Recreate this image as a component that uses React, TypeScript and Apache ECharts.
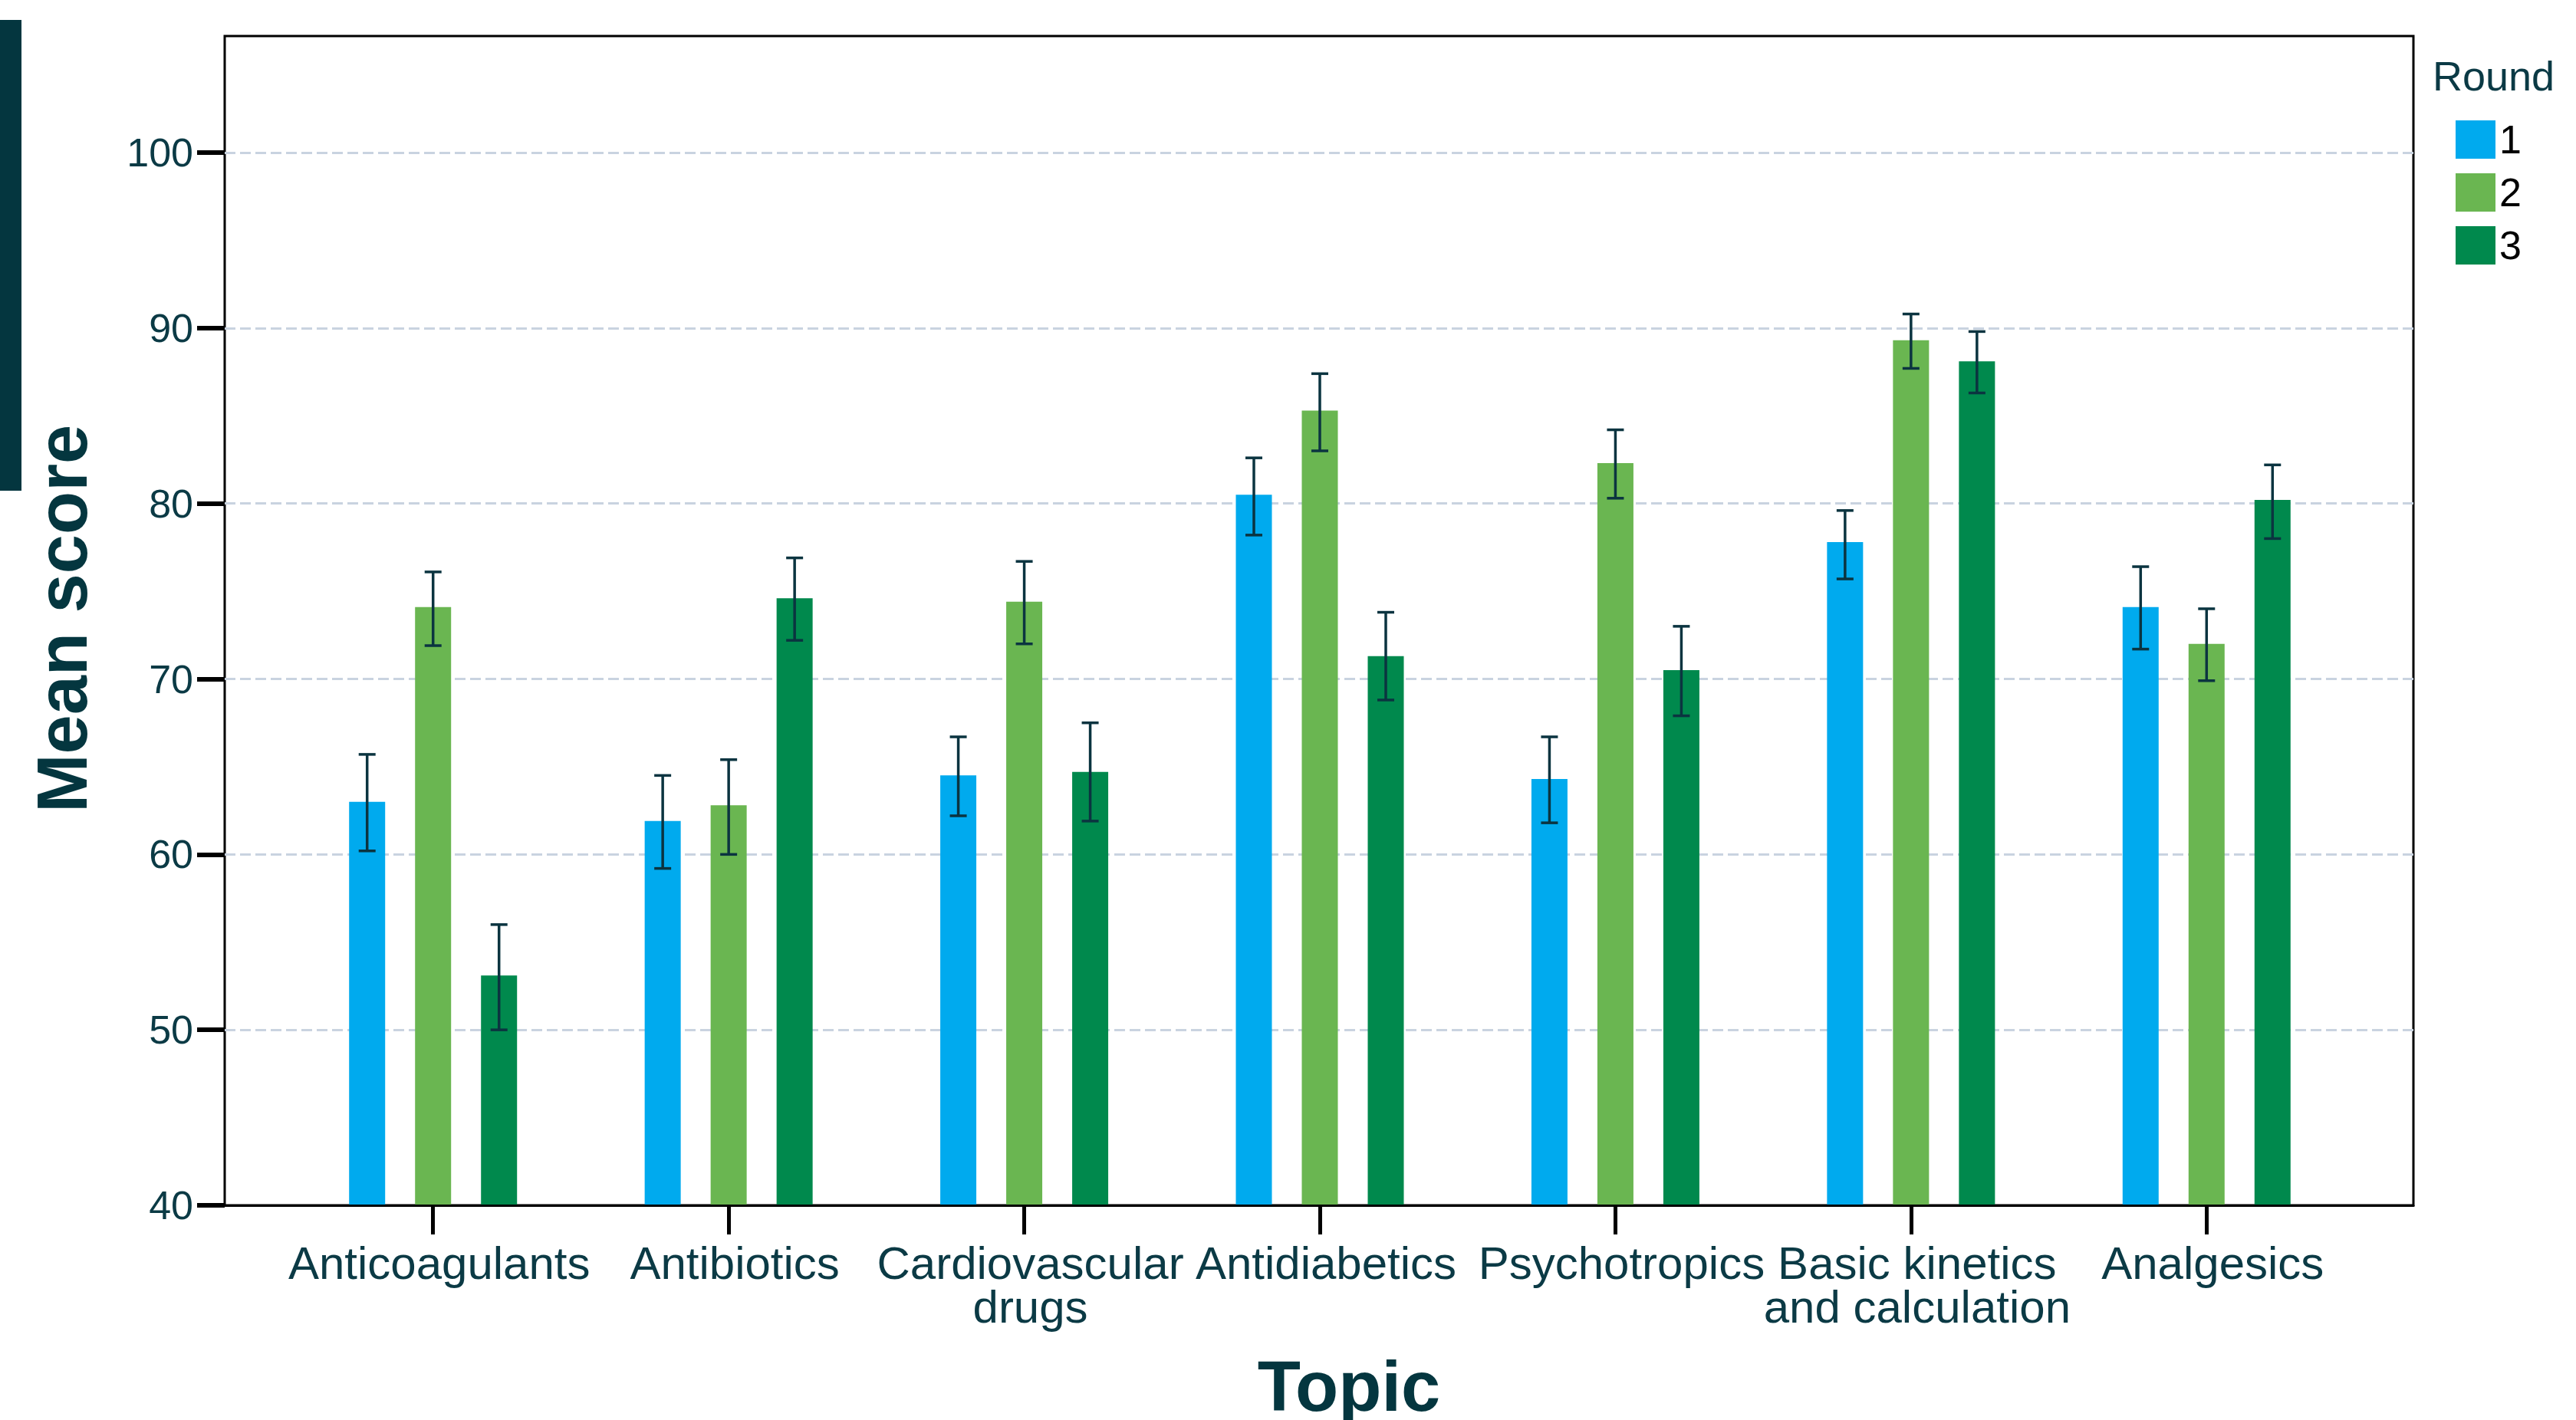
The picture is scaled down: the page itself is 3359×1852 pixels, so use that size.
import React, { useEffect, useRef } from "react";
import * as echarts from "echarts";

const categories = [
  "Anticoagulants",
  "Antibiotics",
  "Cardiovascular\ndrugs",
  "Antidiabetics",
  "Psychotropics",
  "Basic kinetics\nand calculation",
  "Analgesics",
];

const roundNames = ["1", "2", "3"];

const round1 = [63.0, 61.9, 64.5, 80.5, 64.3, 77.8, 74.1];
const round1Low = [60.2, 59.2, 62.2, 78.2, 61.8, 75.7, 71.7];
const round1High = [65.7, 64.5, 66.7, 82.6, 66.7, 79.6, 76.4];

const round2 = [74.1, 62.8, 74.4, 85.3, 82.3, 89.3, 72.0];
const round2Low = [71.9, 60.0, 72.0, 83.0, 80.3, 87.7, 69.9];
const round2High = [76.1, 65.4, 76.7, 87.4, 84.2, 90.8, 74.0];

const round3 = [53.1, 74.6, 64.7, 71.3, 70.5, 88.1, 80.2];
const round3Low = [50.0, 72.2, 61.9, 68.8, 67.9, 86.3, 78.0];
const round3High = [56.0, 76.9, 67.5, 73.8, 73.0, 89.8, 82.2];

const yTickMin = 40;
const yTickMax = 100;
const yTickStep = 10;

const colors = ["#00aaee", "#6ab651", "#00894d"];
const TEAL = "#0b3a45";
const DARK = "#04363f";
const ERR = "#0b3440";
const FONT = "'Liberation Sans', Arial, sans-serif";

const BAR_W = 47;
const BAR_GAP_PX = 39;
const CAP_W = 22;

export default function App() {
  const ref = useRef<HTMLDivElement>(null);

  useEffect(() => {
    if (!ref.current) return;
    const chart = echarts.init(ref.current, undefined, { renderer: "svg" });

    const means = [round1, round2, round3];
    const lows = [round1Low, round2Low, round3Low];
    const highs = [round1High, round2High, round3High];

    const barSeries = roundNames.map((name, k) => ({
      name,
      type: "bar",
      xAxisIndex: 2,
      yAxisIndex: 2,
      data: means[k],
      barWidth: BAR_W,
      barGap: `${(BAR_GAP_PX / BAR_W) * 100}%`,
      itemStyle: { color: colors[k] },
      z: 2,
    }));

    const errSeries = roundNames.map((name, k) => ({
      name: "err" + name,
      type: "custom",
      xAxisIndex: 2,
      yAxisIndex: 2,
      clip: false,
      z: 5,
      encode: { x: 0, y: [1, 2] },
      data: categories.map((_, i) => [i, lows[k][i], highs[k][i]]),
      renderItem: (params: any, api: any) => {
        const i = api.value(0);
        const lo = api.coord([i, api.value(1)]);
        const hi = api.coord([i, api.value(2)]);
        const x = lo[0] + (k - 1) * (BAR_W + BAR_GAP_PX);
        const half = CAP_W / 2;
        const style = { stroke: ERR, lineWidth: 3.5 };
        return {
          type: "group",
          children: [
            { type: "line", shape: { x1: x, y1: hi[1], x2: x, y2: lo[1] }, style },
            { type: "line", shape: { x1: x - half, y1: hi[1], x2: x + half, y2: hi[1] }, style },
            { type: "line", shape: { x1: x - half, y1: lo[1], x2: x + half, y2: lo[1] }, style },
          ],
        };
      },
    }));

    const option: any = {
      animation: false,
      backgroundColor: "#ffffff",
      textStyle: { fontFamily: FONT },
      grid: [
        { left: 293, right: 212, top: 47, bottom: 280, show: true, borderColor: "#000", borderWidth: 3, backgroundColor: "transparent" },
        { left: 293, right: 212, top: 199, bottom: 280 },
        { left: 372, right: 289, top: 199, bottom: 280 },
      ],
      xAxis: [
        {
          gridIndex: 0, type: "value", min: 0, max: 1, z: 6,
          axisLine: { show: true, lineStyle: { color: "#000", width: 3 } },
          axisTick: { show: false }, axisLabel: { show: false }, splitLine: { show: false },
        },
        { gridIndex: 1, type: "value", min: 0, max: 1, show: false },
        {
          gridIndex: 2,
          type: "category",
          data: categories,
          axisLine: { show: false },
          axisTick: { show: true, alignWithLabel: true, length: 38, lineStyle: { color: "#000", width: 5 } },
          axisLabel: {
            interval: 0,
            margin: 47,
            fontSize: 60,
            lineHeight: 57,
            color: TEAL,
            fontFamily: FONT,
            align: "center",
            padding: [0, 0, 0, 16],
          },
          splitLine: { show: false },
        },
      ],
      yAxis: [
        { gridIndex: 0, type: "value", min: 0, max: 1, show: false },
        {
          gridIndex: 1,
          type: "value",
          min: yTickMin,
          max: yTickMax,
          interval: yTickStep,
          axisLine: { show: false },
          axisTick: { show: true, length: 36, lineStyle: { color: "#000", width: 6 } },
          axisLabel: { margin: 41, fontSize: 52, color: TEAL, fontFamily: FONT, padding: [14, 0, 0, 0] },
          splitLine: { show: true, lineStyle: { color: "#c9d3e0", width: 3, type: [14, 6] } },
        },
        { gridIndex: 2, type: "value", min: yTickMin, max: yTickMax, show: false },
      ],
      legend: {
        data: roundNames,
        orient: "vertical",
        left: 3202,
        top: 156,
        padding: 0,
        itemWidth: 52,
        itemHeight: 50,
        itemGap: 17,
        icon: "rect",
        textStyle: { fontSize: 52, color: "#000", fontFamily: FONT, padding: [14, 0, 0, 0] },
        selectedMode: false,
      },
      graphic: [
        { type: "rect", left: 0, top: 26, shape: { width: 28, height: 614 }, style: { fill: DARK }, silent: true },
        {
          type: "text",
          x: 3172,
          y: 99,
          style: { text: "Round", fontSize: 54, fill: TEAL, fontFamily: FONT, align: "left", verticalAlign: "middle" },
        },
        {
          type: "text",
          x: 1759,
          y: 1808,
          style: { text: "Topic", fontSize: 92, fontWeight: "bold", fill: DARK, fontFamily: FONT, align: "center", verticalAlign: "middle" },
        },
        {
          type: "text",
          x: 81,
          y: 807,
          rotation: Math.PI / 2,
          style: { text: "Mean score", fontSize: 92, fontWeight: "bold", fill: DARK, fontFamily: FONT, align: "center", verticalAlign: "middle" },
        },
      ],
      series: [...barSeries, ...errSeries],
    };

    chart.setOption(option);
    return () => chart.dispose();
  }, []);

  return (
    <div
      ref={ref}
      style={{ position: "fixed", left: 0, top: 0, width: 3359, height: 1852, background: "#fff" }}
    />
  );
}
